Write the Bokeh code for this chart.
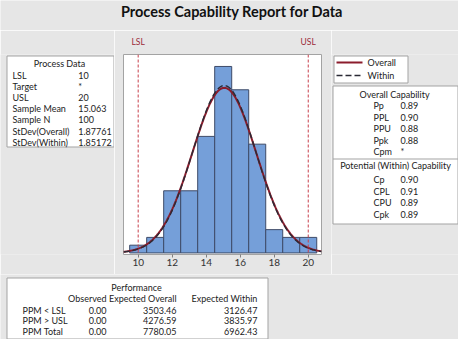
import numpy as np
from bokeh.plotting import figure
from bokeh.layouts import column, row
from bokeh.models import Range1d, LinearAxis, FixedTicker, Span
from bokeh.core.properties import value
from bokeh.embed import file_html
from bokeh.resources import INLINE

# ---------------- data ----------------
title_text = "Process Capability Report for Data"
bin_centers = [10, 11, 12, 13, 14, 15, 16, 17, 18, 19, 20]
bin_counts = [1, 2, 8, 8, 15, 24, 21, 14, 3, 2, 2]
bin_width = 1.0
lsl = 10
usl = 20
sample_mean = 15.063
sample_n = 100
stdev_overall = 1.87761
stdev_within = 1.85172
x_ticks = [10, 12, 14, 16, 18, 20]

process_labels = ["LSL", "Target", "USL", "Sample Mean", "Sample N",
                  "StDev(Overall)", "StDev(Within)"]
process_values = ["10", "*", "20", "15.063", "100", "1.87761", "1.85172"]

overall_labels = ["Pp", "PPL", "PPU", "Ppk", "Cpm"]
overall_values = ["0.89", "0.90", "0.88", "0.88", "*"]
within_labels = ["Cp", "CPL", "CPU", "Cpk"]
within_values = ["0.90", "0.91", "0.89", "0.89"]

perf_rows = ["PPM < LSL", "PPM > USL", "PPM Total"]
perf_cols = ["Observed", "Expected Overall", "Expected Within"]
perf_observed = ["0.00", "0.00", "0.00"]
perf_overall = ["3503.46", "4276.59", "7780.05"]
perf_within = ["3126.47", "3835.97", "6962.43"]

legend_labels = ["Overall", "Within"]

# ---------------- style ----------------
BG = "#e6e6e6"
BORDER = "#a3a3a3"
TXT = "#222222"
FONT = "Lato"
SMALL = "9px"
BAR_FILL = "#759fd9"
BAR_LINE = "#3e4b68"
OVERALL_C = "#8b1c2c"
WITHIN_C = "#2a2a35"
SPEC_C = "#c8404c"

# page-layout coordinates (screen-like, y downwards)
X0, X1 = 4, 462          # whole canvas: 458 px wide
Y0, Y1 = 4, 343          # whole canvas: 339 px tall
MID_TOP, MID_BOT = 34, 278
FRAME_TOP, FRAME_BOT = 58, 258
LEFT_R, HIST_R = 118, 335


def panel(x0, x1, y0, y1, top=0, bottom=0):
    w, h = x1 - x0, y1 - y0
    p = figure(width=w, height=h, x_range=Range1d(x0, x1),
               y_range=Range1d(y1 - bottom, y0 + top),
               output_backend="svg", toolbar_location=None, min_border=0,
               min_border_top=top, min_border_bottom=bottom,
               x_axis_type=None, y_axis_type=None)
    p.background_fill_color = BG
    p.border_fill_color = BG
    p.outline_line_color = None
    return p


def txt(p, xs, ys, texts, align="left", size=SMALL, style="normal", color=TXT):
    p.text(x=xs, y=ys, text=texts, text_align=align, text_baseline="middle",
           text_font=value(FONT), text_font_size=value(size),
           text_font_style=style, text_color=color)


def box(p, l, r, t, b):
    p.quad(left=[l], right=[r], top=[t], bottom=[b], fill_color="white",
           line_color=BORDER, line_width=1)


TOPB = FRAME_TOP - MID_TOP
BOTB = MID_BOT - FRAME_BOT

# ---------------- title ----------------
tp = panel(X0, X1, Y0, MID_TOP)
txt(tp, [235.5], [15], [title_text], align="center", size="14.5px", style="bold",
    color="#111111")

# ---------------- left panel: process data ----------------
lp = panel(X0, LEFT_R, MID_TOP, MID_BOT, TOPB, BOTB)
box(lp, 10.5, 117.5, 59.5, 150.5)
txt(lp, [63], [67], ["Process Data"], align="center")
ys = [79 + i * 11.1 for i in range(len(process_labels))]
txt(lp, [16] * len(ys), ys, process_labels)
txt(lp, [81.7] * len(ys), ys, process_values)

# ---------------- histogram ----------------
hp = figure(width=HIST_R - LEFT_R, height=MID_BOT - MID_TOP,
            x_range=Range1d(9.137, 20.78), y_range=Range1d(-0.2, 25.54),
            output_backend="svg", toolbar_location=None, y_axis_type=None,
            min_border_left=127 - LEFT_R, min_border_right=HIST_R - 325,
            min_border_top=TOPB, min_border_bottom=BOTB)
hp.background_fill_color = "white"
hp.border_fill_color = BG
hp.outline_line_color = BORDER
hp.grid.grid_line_color = None

hp.vbar(x=bin_centers, width=bin_width, top=bin_counts, bottom=0,
        fill_color=BAR_FILL, line_color=BAR_LINE, line_width=1)

xs = np.linspace(9.137, 20.78, 300)
scale = sample_n * bin_width
y_over = scale * np.exp(-0.5 * ((xs - sample_mean) / stdev_overall) ** 2) / (stdev_overall * np.sqrt(2 * np.pi))
y_with = scale * np.exp(-0.5 * ((xs - sample_mean) / stdev_within) ** 2) / (stdev_within * np.sqrt(2 * np.pi))
hp.line(xs, y_over, line_color=OVERALL_C, line_width=2)
hp.line(xs, y_with, line_color=WITHIN_C, line_width=1.4, line_dash="6 3")

for loc in (lsl, usl):
    hp.add_layout(Span(location=loc, dimension="height", line_color=SPEC_C,
                       line_dash="3 2", line_width=1))

xa = hp.xaxis[0]
xa.ticker = FixedTicker(ticks=x_ticks)
xa.axis_line_color = None
xa.major_tick_out = 3
xa.major_tick_in = 0
xa.major_tick_line_color = "#808080"
xa.minor_tick_line_color = None
xa.major_label_standoff = 1
xa.major_label_text_font = FONT
xa.major_label_text_font_size = "10px"
xa.major_label_text_color = "#333333"

spec_axis = LinearAxis(ticker=FixedTicker(ticks=[lsl, usl]),
                       major_label_overrides={lsl: "LSL", usl: "USL"})
spec_axis.axis_line_color = None
spec_axis.major_tick_line_color = None
spec_axis.minor_tick_line_color = None
spec_axis.major_label_standoff = 2
spec_axis.major_label_text_font = FONT
spec_axis.major_label_text_font_size = "8.5px"
spec_axis.major_label_text_color = "#9a2a38"
hp.add_layout(spec_axis, "above")

# ---------------- right panel: legend + capability ----------------
rp = panel(HIST_R, X1, MID_TOP, MID_BOT, TOPB, BOTB)
box(rp, 337.5, 411.5, 59.5, 86.5)
rp.line([340, 366], [66, 66], line_color=OVERALL_C, line_width=2)
rp.line([340, 366], [79, 79], line_color=WITHIN_C, line_width=1.4, line_dash="6 3")
txt(rp, [371, 371], [66, 79], legend_labels)

box(rp, 336.5, 461.5, 89.5, 227.5)
rp.line([336.5, 461.5], [162.5, 162.5], line_color=BORDER, line_width=1)
txt(rp, [398], [98], ["Overall Capability"], align="center")
ys = [109 + i * 11.5 for i in range(len(overall_labels))]
txt(rp, [377] * len(ys), ys, overall_labels)
txt(rp, [404] * len(ys), ys, overall_values)
txt(rp, [399], [169], ["Potential (Within) Capability"], align="center")
ys = [183 + i * 11.6 for i in range(len(within_labels))]
txt(rp, [377] * len(ys), ys, within_labels)
txt(rp, [404] * len(ys), ys, within_values)

# ---------------- bottom panel: performance ----------------
bp = panel(X0, X1, MID_BOT, Y1)
box(bp, 10.5, 271.5, 281.5, 342.5)
txt(bp, [140], [290.7], ["Performance"], align="center")
col_x = [110, 180, 261]
txt(bp, col_x, [302.3] * 3, perf_cols, align="right")
ys = [313.7, 324.3, 335.0]
txt(bp, [26] * 3, ys, perf_rows)
txt(bp, [col_x[0]] * 3, ys, perf_observed, align="right")
txt(bp, [col_x[1]] * 3, ys, perf_overall, align="right")
txt(bp, [col_x[2]] * 3, ys, perf_within, align="right")

layout = column(tp, row(lp, hp, rp, spacing=0), bp, spacing=0)

open("out.html", "w").write(file_html(layout, INLINE))
